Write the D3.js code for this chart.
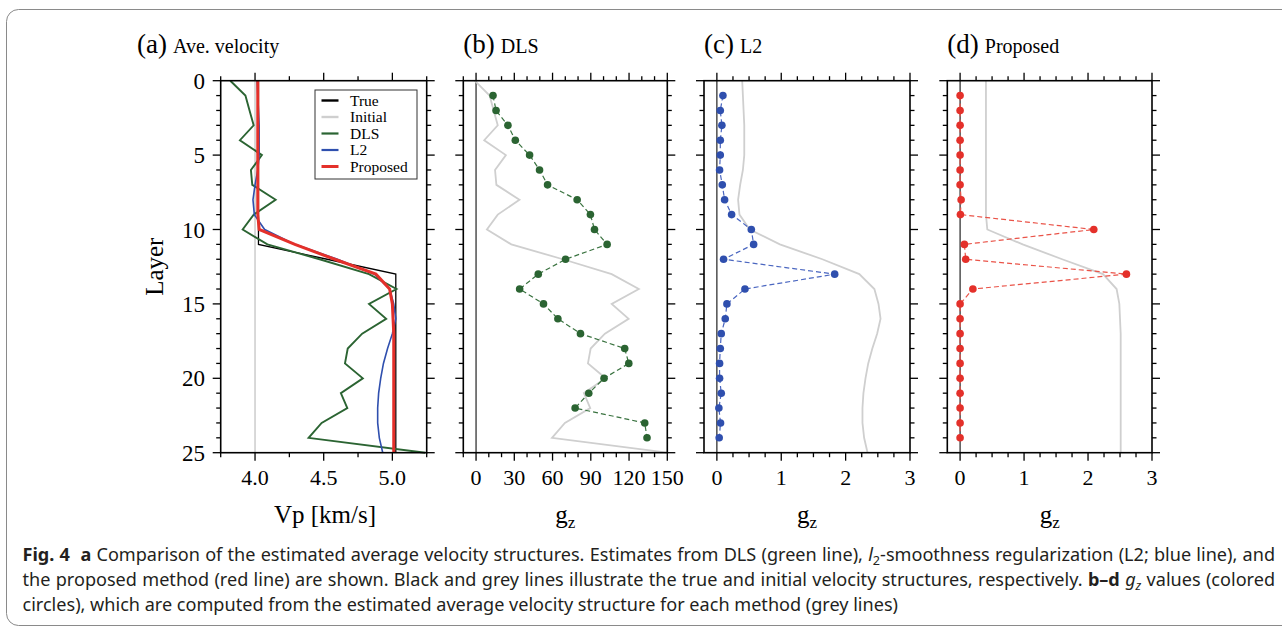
<!DOCTYPE html>
<html>
<head>
<meta charset="utf-8">
<script src="https://cdn.jsdelivr.net/npm/d3@7"></script>
<style>
  html, body { margin: 0; padding: 0; background: #fff; }
  svg { display: block; }
  .serif { font-family: "Liberation Serif", "Times New Roman", serif; fill: #000; }
  .cap { font-family: "Noto Sans", "Open Sans", sans-serif; fill: #231f20; }
</style>
</head>
<body>
<svg id="fig" width="1282" height="628"></svg>
<script>
// Layer numbers (depth index) for the velocity profiles
const layers = d3.range(0, 26);

// Average P-wave velocity per layer [km/s]
const vTrue     = [4.025,4.025,4.025,4.025,4.025,4.025,4.025,4.025,4.025,4.025,4.025,4.025,4.525,
                   5.025,5.025,5.025,5.025,5.025,5.025,5.025,5.025,5.025,5.025,5.025,5.025,5.025];
const vInitial  = [4.0,4.0,4.0,4.0,4.0,4.0,4.0,4.0,4.0,4.0,4.0,4.0,4.0,
                   4.0,4.0,4.0,4.0,4.0,4.0,4.0,4.0,4.0,4.0,4.0,4.0,4.0];
const vDLS      = [3.82,3.93,3.96,3.99,3.89,4.05,3.97,3.98,4.15,3.99,3.91,4.09,4.47,
                   4.83,5.03,4.83,4.955,4.78,4.675,4.655,4.785,4.625,4.672,4.485,4.39,5.24];
const vL2       = [4.015,4.02,4.025,4.03,4.03,4.03,4.02,4.0,3.985,3.995,4.07,4.29,4.6,
                   4.87,4.98,5.01,5.025,5.0,4.965,4.935,4.915,4.9,4.893,4.893,4.905,4.93];
const vProposed = [4.02,4.02,4.02,4.02,4.02,4.02,4.02,4.02,4.02,4.02,4.03,4.29,4.58,
                   4.88,4.98,5.0,5.005,5.01,5.01,5.01,5.01,5.01,5.01,5.01,5.01,5.01];

// g_z values evaluated at layers 1..24
const gzLayers   = d3.range(1, 25);
const gzDLS      = [13.3,15.7,25.0,30.8,42.0,49.8,56.1,79.3,89.7,92.9,102.8,70.2,
                    48.8,34.2,52.9,64.2,81.9,116.6,119.8,100.4,88.4,77.7,132.3,134.1];
const gzL2       = [0.094,0.053,0.078,0.053,0.053,0.042,0.084,0.12,0.229,0.535,0.571,0.104,
                    1.83,0.436,0.156,0.13,0.068,0.053,0.042,0.042,0.068,0.031,0.057,0.036];
const gzProposed = [0,0,0,0,0,0,0,0.016,0.005,2.09,0.067,0.088,
                    2.6,0.2,0,0,0,0,0,0,0,0,0,0];

// Tick values
const vpTicks    = [4.0, 4.5, 5.0];
const vpMinor    = [3.75, 4.25, 4.75, 5.25];
const gzTicksB   = [0, 30, 60, 90, 120, 150];
const gzMinorB   = [-10, 10, 20, 40, 50, 70, 80, 100, 110, 130, 140];
const gzTicksCD  = [0, 1, 2, 3];
const gzMinorCD  = [0.25, 0.5, 0.75, 1.25, 1.5, 1.75, 2.25, 2.5, 2.75];
const layerTicks = [0, 5, 10, 15, 20, 25];

// Legend entries
const legendLabels = ["True", "Initial", "DLS", "L2", "Proposed"];

const C = {
  black: "#000",
  grey: "#cfcfcf",
  green: "#2b6432",
  blue: "#2f4fae",
  red: "#e4302a"
};

const svg = d3.select("#fig");

// Caption frame
svg.append("rect")
  .attr("x", 6.5).attr("y", 9.5)
  .attr("width", 1300).attr("height", 616)
  .attr("rx", 12).attr("ry", 12)
  .attr("fill", "none").attr("stroke", "#8a8a8a").attr("stroke-width", 1);

const yTop = 80.7, yBot = 452.7;
const y = d3.scaleLinear().domain([0, 25]).range([yTop, yBot]);

const MAJ = 8, MIN = 4.5;

function frameAndTicks(g, x, majorX, minorX, fmt) {
  const [x0, x1] = x.range();
  const tickGroup = g.append("g").attr("stroke", "#000").attr("stroke-width", 1.3);
  // x ticks top & bottom (outward)
  const allX = majorX.map(v => ({v, L: MAJ})).concat(minorX.map(v => ({v, L: MIN})));
  allX.forEach(t => {
    const px = x(t.v);
    tickGroup.append("line").attr("x1", px).attr("x2", px).attr("y1", yTop).attr("y2", yTop - t.L);
    tickGroup.append("line").attr("x1", px).attr("x2", px).attr("y1", yBot).attr("y2", yBot + t.L);
  });
  // y ticks left & right (outward)
  layers.forEach(l => {
    const L = l % 5 === 0 ? MAJ : MIN;
    tickGroup.append("line").attr("y1", y(l)).attr("y2", y(l)).attr("x1", x0).attr("x2", x0 - L);
    tickGroup.append("line").attr("y1", y(l)).attr("y2", y(l)).attr("x1", x1).attr("x2", x1 + L);
  });
  g.append("rect")
    .attr("x", x0).attr("y", yTop).attr("width", x1 - x0).attr("height", yBot - yTop)
    .attr("fill", "none").attr("stroke", "#000").attr("stroke-width", 1.6);
  // bottom tick labels
  g.append("g").selectAll("text").data(majorX).join("text")
    .attr("class", "serif")
    .attr("x", d => x(d)).attr("y", yBot + 32)
    .attr("text-anchor", "middle").attr("font-size", 22)
    .text(fmt);
}

function title(x0, lab, name) {
  const t = svg.append("text").attr("class", "serif").attr("x", x0).attr("y", 53);
  t.append("tspan").attr("font-size", 27).text(lab);
  t.append("tspan").attr("font-size", 20).attr("dx", 6).text(name);
}

function gzLabel(cx) {
  const t = svg.append("text").attr("class", "serif")
    .attr("x", cx).attr("y", 523).attr("text-anchor", "middle").attr("font-size", 25);
  t.append("tspan").text("g");
  t.append("tspan").attr("font-size", 17).attr("dy", 5).text("z");
}

// ---------- (a) average velocity ----------
const xa = d3.scaleLinear().domain([3.75, 5.25]).range([220.7, 426.7]);
const ga = svg.append("g");
const lineA = arr => d3.line().x(d => xa(d)).y((d, i) => y(layers[i]))(arr);

ga.append("path").attr("d", lineA(vInitial)).attr("fill", "none").attr("stroke", C.grey).attr("stroke-width", 1.6);
ga.append("path").attr("d", lineA(vTrue)).attr("fill", "none").attr("stroke", C.black).attr("stroke-width", 1.3);
ga.append("path").attr("d", lineA(vDLS)).attr("fill", "none").attr("stroke", C.green).attr("stroke-width", 1.9);
ga.append("path").attr("d", lineA(vL2)).attr("fill", "none").attr("stroke", C.blue).attr("stroke-width", 1.6);
ga.append("path").attr("d", lineA(vProposed)).attr("fill", "none").attr("stroke", C.red).attr("stroke-width", 3);

frameAndTicks(ga, xa, vpTicks, vpMinor, d => d.toFixed(1));

// y tick labels
ga.append("g").selectAll("text").data(layerTicks).join("text")
  .attr("class", "serif").attr("x", 205).attr("y", d => y(d)).attr("dy", "0.35em")
  .attr("text-anchor", "end").attr("font-size", 23).text(d => d);

svg.append("text").attr("class", "serif")
  .attr("transform", `translate(163,${(yTop + yBot) / 2}) rotate(-90)`)
  .attr("text-anchor", "middle").attr("font-size", 25).text("Layer");
svg.append("text").attr("class", "serif")
  .attr("x", 325).attr("y", 523).attr("text-anchor", "middle").attr("font-size", 25).text("Vp [km/s]");

// legend
const lg = ga.append("g");
lg.append("rect").attr("x", 315).attr("y", 90).attr("width", 102).attr("height", 89)
  .attr("fill", "#fff").attr("stroke", "#333").attr("stroke-width", 1);
const legendStyle = [
  { c: C.black, w: 2.4 }, { c: C.grey, w: 2.4 }, { c: C.green, w: 2.2 },
  { c: C.blue, w: 2.2 }, { c: C.red, w: 3 }
];
legendLabels.forEach((lab, i) => {
  const yy = 100.5 + i * 16.5;
  lg.append("line").attr("x1", 321.5).attr("x2", 338.5).attr("y1", yy).attr("y2", yy)
    .attr("stroke", legendStyle[i].c).attr("stroke-width", legendStyle[i].w);
  lg.append("text").attr("class", "serif").attr("x", 350).attr("y", yy).attr("dy", "0.35em")
    .attr("font-size", 15.5).text(lab);
});

title(137, "(a)", "Ave. velocity");

// ---------- g_z panels ----------
function gzPanel(x0, x1, domain, vel, gz, color, dashColor, majors, minors, lab, name) {
  const x = d3.scaleLinear().domain(domain).range([x0, x1]);
  // velocity profile drawn on the g_z axis
  const xv = d3.scaleLinear().domain([3.83, 5.24]).range([x(0), x(domain[1])]);
  const g = svg.append("g");
  g.append("line").attr("x1", x(0)).attr("x2", x(0)).attr("y1", yTop).attr("y2", yBot)
    .attr("stroke", "#222").attr("stroke-width", 1.2);
  g.append("path")
    .attr("d", d3.line().x(d => xv(d)).y((d, i) => y(layers[i]))(vel))
    .attr("fill", "none").attr("stroke", C.grey).attr("stroke-width", 1.8);
  g.append("path")
    .attr("d", d3.line().x(d => x(d)).y((d, i) => y(gzLayers[i]))(gz))
    .attr("fill", "none").attr("stroke", dashColor).attr("stroke-width", 1.2)
    .attr("stroke-dasharray", "5,3");
  g.append("g").selectAll("circle").data(gz).join("circle")
    .attr("cx", d => x(d)).attr("cy", (d, i) => y(gzLayers[i])).attr("r", 3.8)
    .attr("fill", color);
  frameAndTicks(g, x, majors, minors, d => d);
  title(x0, lab, name);
  gzLabel((x0 + x1) / 2);
}

gzPanel(463.3, 667.3, [-10, 150], vDLS, gzDLS, C.green, "#3a7340", gzTicksB, gzMinorB, "(b)", "DLS");
gzPanel(704, 910, [-0.2, 3], vL2, gzL2, C.blue, "#4a66c0", gzTicksCD, gzMinorCD, "(c)", "L2");
gzPanel(947.3, 1152, [-0.2, 3], vProposed, gzProposed, C.red, "#ea5348", gzTicksCD, gzMinorCD, "(d)", "Proposed");

// ---------- caption ----------
const capX = 22.5, capRight = 1275;
const capLines = [
  [{ t: "Fig. 4", b: 1 }, { t: "  " }, { t: "a", b: 1 },
   { t: " Comparison of the estimated average velocity structures. Estimates from DLS (green line), " },
   { t: "l", i: 1 }, { t: "2", sub: 1 }, { t: "-smoothness regularization (L2; blue line), and" }],
  [{ t: "the proposed method (red line) are shown. Black and grey lines illustrate the true and initial velocity structures, respectively. " },
   { t: "b–d", b: 1 }, { t: " " }, { t: "g", i: 1 }, { t: "z", i: 1, sub: 1 },
   { t: " values (colored" }],
  [{ t: "circles), which are computed from the estimated average velocity structure for each method (grey lines)" }]
];
const capY = [560.5, 586, 610.5];
const capNodes = capLines.map((parts, li) => {
  const t = svg.append("text").attr("class", "cap").attr("x", capX).attr("y", capY[li])
    .attr("font-size", 17).attr("xml:space", "preserve").style("white-space", "pre");
  let afterSub = false;
  parts.forEach(p => {
    const s = t.append("tspan").text(p.t);
    if (p.b) s.attr("font-weight", "bold");
    if (p.i) s.attr("font-style", "italic");
    if (p.sub) s.attr("font-size", "0.7em").attr("dy", 4);
    else if (afterSub) s.attr("dy", -4);
    afterSub = !!p.sub;
  });
  return t;
});
// size the font from the unjustified last line, then justify the first two lines
const w3 = capNodes[2].node().getComputedTextLength();
const fs = 17 * (899 - capX) / w3;
capNodes.forEach(n => n.attr("font-size", fs));
[0, 1].forEach(i => {
  const n = capNodes[i];
  const w = n.node().getComputedTextLength();
  const spaces = capLines[i].map(p => p.t).join("").split(" ").length - 1;
  n.attr("word-spacing", (capRight - capX - w) / spaces);
});
</script>
</body>
</html>
